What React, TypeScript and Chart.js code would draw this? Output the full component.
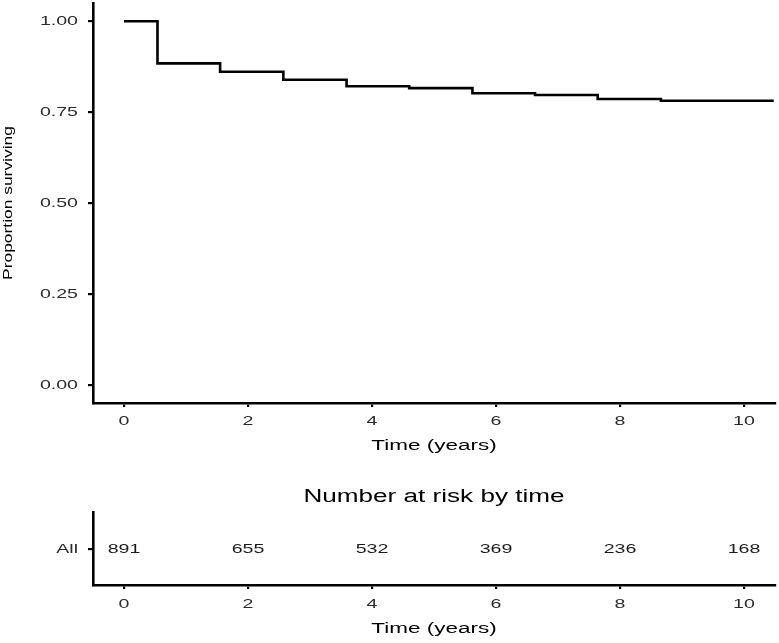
import React, { useEffect, useRef } from 'react';
import { Chart, registerables } from 'chart.js';

Chart.register(...registerables);

// ---- data ----
const kmTimes = [0, 0.54, 1.55, 2.57, 3.59, 4.6, 5.62, 6.63, 7.64, 8.66, 10.48];
const kmSurvival = [1.0, 0.884, 0.861, 0.839, 0.821, 0.816, 0.802, 0.797, 0.786, 0.781, 0.781];
const xTickValues = [0, 2, 4, 6, 8, 10];
const yTickValues = [0, 0.25, 0.5, 0.75, 1];
const riskGroups = ['All'];
const riskTimes = [0, 2, 4, 6, 8, 10];
const riskCounts = [891, 655, 532, 369, 236, 168];

// ---- style ----
const TEXT_STRETCH = 1.45;
const FONT = "'Liberation Sans', Arial, Helvetica, sans-serif";
const TICK_COLOR = '#2b2b2b';
const TITLE_COLOR = '#000000';

function stretchText(ctx: CanvasRenderingContext2D) {
  const fill = ctx.fillText.bind(ctx);
  const measure = ctx.measureText.bind(ctx);
  (ctx as any).fillText = (text: string, x: number, y: number) => {
    ctx.save();
    ctx.translate(x, y);
    ctx.scale(TEXT_STRETCH, 1);
    fill(text, 0, 0);
    ctx.restore();
  };
  (ctx as any).measureText = (text: string) => {
    const m = measure(text);
    return {
      width: m.width * TEXT_STRETCH,
      actualBoundingBoxAscent: m.actualBoundingBoxAscent,
      actualBoundingBoxDescent: m.actualBoundingBoxDescent,
      actualBoundingBoxLeft: m.actualBoundingBoxLeft * TEXT_STRETCH,
      actualBoundingBoxRight: m.actualBoundingBoxRight * TEXT_STRETCH,
      fontBoundingBoxAscent: m.fontBoundingBoxAscent,
      fontBoundingBoxDescent: m.fontBoundingBoxDescent,
    };
  };
}

const fixBox = (w?: number, h?: number) => (scale: any) => {
  if (w !== undefined) scale.width = w;
  if (h !== undefined) scale.height = h;
  scale.paddingTop = 0;
  scale.paddingBottom = 0;
  scale.paddingLeft = 0;
  scale.paddingRight = 0;
};

const axisGrid = (tickLength: number) => ({
  drawOnChartArea: false,
  drawTicks: true,
  tickLength,
  color: '#000000',
  lineWidth: 2.2,
});
const axisBorder = { display: true, color: '#000000', width: 2.6 };

const riskLabelPlugin = {
  id: 'riskLabels',
  afterDatasetsDraw(chart: any) {
    const ctx = chart.ctx;
    const meta = chart.getDatasetMeta(0);
    ctx.save();
    ctx.font = `13.5px ${FONT}`;
    ctx.fillStyle = '#1a1a1a';
    ctx.textAlign = 'center';
    ctx.textBaseline = 'middle';
    meta.data.forEach((el: any, i: number) => {
      ctx.fillText(String(riskCounts[i]), el.x, el.y);
    });
    ctx.restore();
  },
};

export default function App() {
  const topRef = useRef<HTMLCanvasElement>(null);
  const botRef = useRef<HTMLCanvasElement>(null);

  useEffect(() => {
    const topCanvas = topRef.current!;
    const botCanvas = botRef.current!;
    const topCtx = topCanvas.getContext('2d')!;
    const botCtx = botCanvas.getContext('2d')!;
    stretchText(topCtx);
    stretchText(botCtx);

    const xScaleBase = (height: number, tickPad: number, titlePad: number) => ({
      type: 'linear' as const,
      min: -0.5,
      max: 10.5,
      afterBuildTicks: (s: any) => {
        s.ticks = xTickValues.map((v) => ({ value: v }));
      },
      afterFit: fixBox(undefined, height),
      grid: axisGrid(4),
      border: axisBorder,
      ticks: {
        autoSkip: false,
        maxRotation: 0,
        minRotation: 0,
        padding: tickPad,
        color: TICK_COLOR,
        font: { size: 13.5, family: FONT },
        callback: (v: any) => String(v),
      },
      title: {
        display: true,
        text: 'Time (years)',
        color: TITLE_COLOR,
        font: { size: 15.5, family: FONT },
        padding: { top: 0, bottom: titlePad },
      },
    });

    const top = new Chart(topCanvas, {
      type: 'line',
      data: {
        datasets: [
          {
            data: kmTimes.map((t, i) => ({ x: t, y: kmSurvival[i] })),
            stepped: 'before',
            borderColor: '#000000',
            borderWidth: 2.6,
            pointRadius: 0,
            fill: false,
            tension: 0,
            borderJoinStyle: 'miter',
          } as any,
        ],
      },
      options: {
        responsive: false,
        animation: false,
        events: [],
        layout: { padding: { left: 0, top: 3, right: 4, bottom: 0 } },
        plugins: { legend: { display: false }, tooltip: { enabled: false }, title: { display: false } },
        scales: {
          x: xScaleBase(57, 6, 4.7) as any,
          y: {
            type: 'linear',
            min: -0.05,
            max: 1.05,
            afterBuildTicks: (s: any) => {
              s.ticks = yTickValues.map((v) => ({ value: v }));
            },
            afterFit: fixBox(93, undefined),
            grid: axisGrid(5),
            border: axisBorder,
            ticks: {
              padding: 10,
              color: TICK_COLOR,
              font: { size: 13.5, family: FONT },
              callback: (v: any) => Number(v).toFixed(2),
            },
            title: {
              display: true,
              text: 'Proportion surviving',
              color: TITLE_COLOR,
              font: { size: 12, family: FONT },
              padding: { top: 1.2, bottom: 0 },
            },
          } as any,
        },
      },
    });

    const bottom = new Chart(botCanvas, {
      type: 'scatter',
      data: {
        datasets: [
          {
            data: riskTimes.map((t) => ({ x: t, y: riskGroups[0] })),
            pointRadius: 0,
            showLine: false,
          } as any,
        ],
      },
      options: {
        responsive: false,
        animation: false,
        events: [],
        layout: { padding: { left: 0, top: 0, right: 4, bottom: 0 } },
        plugins: {
          legend: { display: false },
          tooltip: { enabled: false },
          title: {
            display: true,
            text: 'Number at risk by time',
            color: TITLE_COLOR,
            font: { size: 18, family: FONT, weight: 'normal' },
            padding: { top: 26, bottom: 5 },
            fullSize: false,
          } as any,
        },
        scales: {
          x: xScaleBase(58, 7.6, 5.4) as any,
          y: {
            type: 'category',
            labels: riskGroups,
            offset: true,
            afterFit: fixBox(93, undefined),
            grid: axisGrid(5),
            border: axisBorder,
            ticks: {
              padding: 10,
              color: TICK_COLOR,
              font: { size: 13.5, family: FONT },
            },
          } as any,
        },
      },
      plugins: [riskLabelPlugin],
    });

    return () => {
      top.destroy();
      bottom.destroy();
    };
  }, []);

  return (
    <div
      style={{
        position: 'absolute',
        left: 0,
        top: 0,
        width: 779,
        height: 643,
        background: '#ffffff',
        overflow: 'hidden',
      }}
    >
      <canvas
        ref={topRef}
        width={779}
        height={460}
        style={{ position: 'absolute', left: 0, top: 0, width: 779, height: 460, display: 'block' }}
      />
      <canvas
        ref={botRef}
        width={779}
        height={183}
        style={{ position: 'absolute', left: 0, top: 460, width: 779, height: 183, display: 'block' }}
      />
    </div>
  );
}
